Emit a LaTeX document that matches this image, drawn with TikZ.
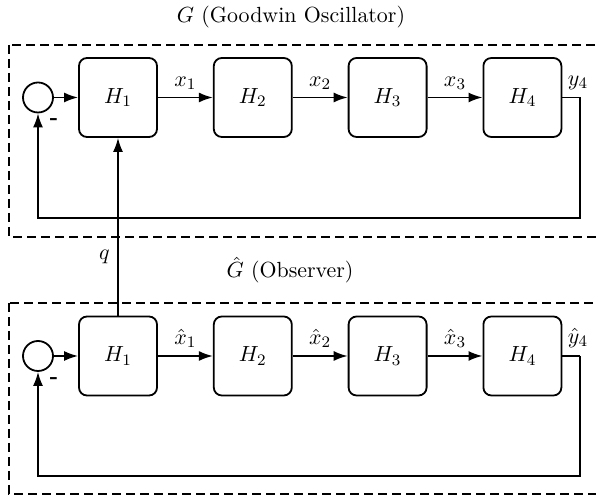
\documentclass[tikz,border=0pt,11pt]{standalone}
\usetikzlibrary{positioning,arrows.meta}
\tikzset{
  blk/.style={draw,rounded corners=4pt,minimum width=39pt,minimum height=39.5pt,line width=0.9pt},
  sumpt/.style={draw,circle,minimum size=15pt,inner sep=0pt,line width=0.9pt},
  frame/.style={dash pattern=on 4.5pt off 2.5pt,line width=0.7pt},
  sig/.style={-{Latex[length=7pt,width=5pt]},line width=0.9pt},
  fb/.style={line width=0.9pt}
}
\begin{document}
\begin{tikzpicture}[x=0.5pt,y=0.5pt]
\useasboundingbox (0,0) rectangle (596,497);
%frames
\draw[frame] (9,452) rectangle (600,260);
\draw[frame] (9,194) rectangle (600,3);
\node (tG) at (291,480) {$G$ (Goodwin Oscillator)};
\node (tGh) at (290,227) {$\hat{G}$ (Observer)};
%plant
\node[sumpt] (s1) at (38,399.5) {};
\node[blk] (a1) at (118,399.5) {$H_1$};
\node[blk,right=27.5pt of a1] (a2) {$H_2$};
\node[blk,right=27.5pt of a2] (a3) {$H_3$};
\node[blk,right=27.5pt of a3] (a4) {$H_4$};
\node[font=\bfseries,inner sep=0pt] (m1) at (54,375) {-};
\coordinate (c1) at (580,399.5);
\coordinate (d1) at (580,279);
\coordinate (e1) at (38,279);
\draw[sig] (s1) -- (a1);
\draw[sig] (a1) -- (a2) node[midway,above]{$x_1$};
\draw[sig] (a2) -- (a3) node[midway,above]{$x_2$};
\draw[sig] (a3) -- (a4) node[midway,above]{$x_3$};
\draw[fb] (a4) -- (c1) node[above,xshift=-1pt]{$y_4$};
\draw[sig] (c1) -- (d1) -- (e1) -- (s1);
%observer
\node[sumpt] (s2) at (38,141) {};
\node[blk] (b1) at (118,141) {$H_1$};
\node[blk,right=27.5pt of b1] (b2) {$H_2$};
\node[blk,right=27.5pt of b2] (b3) {$H_3$};
\node[blk,right=27.5pt of b3] (b4) {$H_4$};
\node[font=\bfseries,inner sep=0pt] (m2) at (54,116.5) {-};
\coordinate (c2) at (580,141);
\coordinate (d2) at (580,21);
\coordinate (e2) at (38,21);
\draw[sig] (s2) -- (b1);
\draw[sig] (b1) -- (b2) node[midway,above]{$\hat{x}_1$};
\draw[sig] (b2) -- (b3) node[midway,above]{$\hat{x}_2$};
\draw[sig] (b3) -- (b4) node[midway,above]{$\hat{x}_3$};
\draw[fb] (b4) -- (c2) node[above,xshift=-1pt]{$\hat{y}_4$};
\draw[sig] (c2) -- (d2) -- (e2) -- (s2);
%coupling
\draw[sig] (b1) -- (a1) node[pos=0.33,left]{$q$};
\end{tikzpicture}
\end{document}
